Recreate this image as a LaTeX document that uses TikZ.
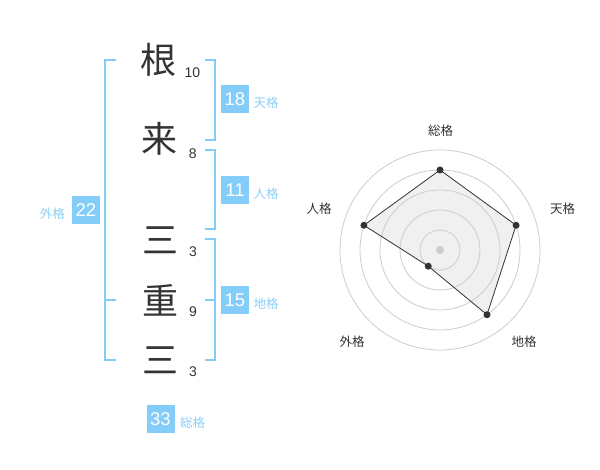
\documentclass[tikz,border=0pt]{standalone}
\usepackage{fontspec}
\setmainfont{Liberation Sans}
\newfontfamily\cjk{Noto Sans CJK JP}
\definecolor{sky}{HTML}{85CDF9}
\definecolor{skytext}{HTML}{8CCFF6}
\definecolor{ink}{HTML}{333333}
\definecolor{ringc}{HTML}{CCCCCC}
\definecolor{polyfill}{HTML}{F0F0F0}
\begin{document}
\begin{tikzpicture}[x=1pt,y=-1pt,
 kanji/.style={font=\cjk\fontsize{36}{36}\selectfont, text=ink, inner sep=0pt},
 strokes/.style={font=\fontsize{14}{14}\selectfont, text=ink, inner sep=0pt, anchor=base},
 kaku/.style={fill=sky, text=white, minimum width=28pt, minimum height=28pt, inner sep=0pt, font=\fontsize{18.5}{18.5}\selectfont},
 kakulabel/.style={text=skytext, font=\cjk\fontsize{12.5}{12.5}\selectfont, inner sep=0pt},
 bracket/.style={draw=sky, line width=2pt},
 ring/.style={draw=ringc, line width=0.8pt},
 axislabel/.style={text=ink, font=\cjk\fontsize{12.5}{12.5}\selectfont, inner sep=0pt},
 dot/.style={circle, fill=ink, inner sep=0pt, minimum size=7pt}]
\useasboundingbox (0,0) rectangle (600,470);

% name characters
\node[kanji] (c1) at (158.5,60) {根};
\node[kanji] (c2) at (159,139) {来};
\node[kanji] (c3) at (160,240) {三};
\node[kanji] (c4) at (160,300) {重};
\node[kanji] (c5) at (160,360) {三};

% stroke counts
\node[strokes] (n1) at (192.5,77.7) {10};
\node[strokes] (n2) at (192.7,158.3) {8};
\node[strokes] (n3) at (193,256.7) {3};
\node[strokes] (n4) at (193,316.7) {9};
\node[strokes] (n5) at (193,377) {3};

% brackets
\draw[bracket] (116,60) -- (105,60) -- (105,360) -- (116,360);
\draw[bracket] (105,300) -- (116,300);
\draw[bracket] (205,60) -- (214.5,60) -- (214.5,140) -- (205,140);
\draw[bracket] (205,150) -- (214.5,150) -- (214.5,229.5) -- (205,229.5);
\draw[bracket] (205,239.5) -- (214.5,239.5) -- (214.5,360) -- (205,360);
\draw[bracket] (205,300) -- (214.5,300);

% boxes and labels
\node[kaku] (ten) at (235,99.5) {18};
\node[kakulabel, anchor=west] (tenl) at (253.5,103) {天格};
\node[kaku] (jin) at (235,190) {11};
\node[kakulabel, anchor=west] (jinl) at (253.5,193.5) {人格};
\node[kaku] (chi) at (235,300.5) {15};
\node[kakulabel, anchor=west] (chil) at (253.5,304) {地格};
\node[kaku] (gai) at (86,210.5) {22};
\node[kakulabel, anchor=east] (gail) at (65,214) {外格};
\node[kaku] (sou) at (160.5,419) {33};
\node[kakulabel, anchor=west] (soul) at (180,422.5) {総格};

% radar chart
\coordinate (ctr) at (440,250);
\coordinate (p1) at (440,170);
\coordinate (p2) at (516.08,225.28);
\coordinate (p3) at (487.02,314.72);
\coordinate (p4) at (428.24,266.18);
\coordinate (p5) at (363.92,225.28);
\fill[polyfill] (p1) -- (p2) -- (p3) -- (p4) -- (p5) -- cycle;
\foreach \r in {20,40,60,80,100} \draw[ring] (ctr) circle (\r);
\fill[ringc] (ctr) circle (4);
\draw[ink, line width=0.8pt, line join=round] (p1) -- (p2) -- (p3) -- (p4) -- (p5) -- cycle;
\foreach \p in {p1,p2,p3,p4,p5} \node[dot] at (\p) {};

\node[axislabel] (a1) at (440.5,130.5) {総格};
\node[axislabel] (a2) at (562.5,208.5) {天格};
\node[axislabel] (a3) at (524,341.5) {地格};
\node[axislabel] (a4) at (352,341.5) {外格};
\node[axislabel] (a5) at (319,208.5) {人格};
\end{tikzpicture}
\end{document}
